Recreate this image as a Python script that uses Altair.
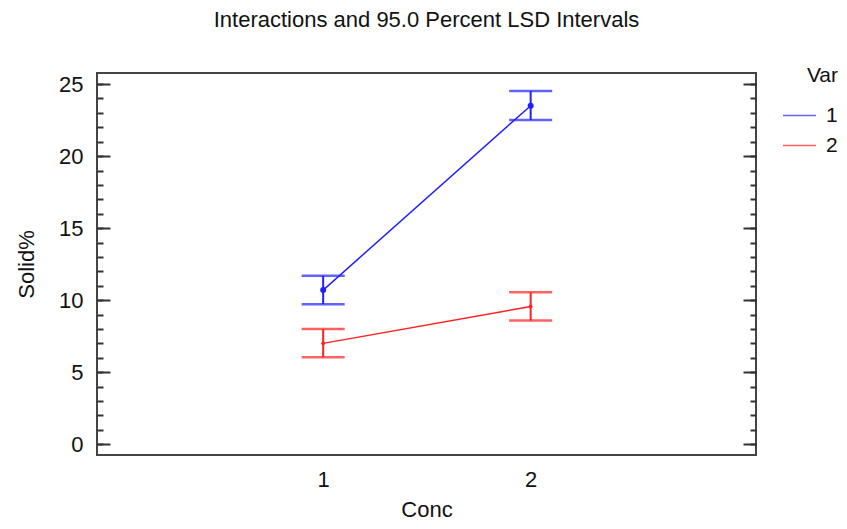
import altair as alt
import pandas as pd

# ---- data ----
conc = [1, 2]
var_levels = ["1", "2"]
mean_var1 = [10.7, 23.5]
lower_var1 = [9.72, 22.5]
upper_var1 = [11.7, 24.52]
mean_var2 = [7.0, 9.56]
lower_var2 = [6.04, 8.58]
upper_var2 = [8.0, 10.55]
y_major = [0, 5, 10, 15, 20, 25]
y_minor = list(range(0, 26))
x_labels = [1, 2]

rows = []
for v, means, lows, highs in [
    ("1", mean_var1, lower_var1, upper_var1),
    ("2", mean_var2, lower_var2, upper_var2),
]:
    for c, m, lo, hi in zip(conc, means, lows, highs):
        rows.append({"conc": c, "var": v, "mean": m, "lo": lo, "hi": hi})
df = pd.DataFrame(rows)

W, H = 659, 382
FONT = "Liberation Sans"
FS = 22
TXT = "#111111"
AX = "#333333"

xs = alt.Scale(domain=[-0.09, 3.086], nice=False, zero=False)
ys = alt.Scale(domain=[-0.75, 25.77], nice=False, zero=False)

legend = alt.Legend(
    title="Var", orient="none", legendX=685, legendY=-8,
    symbolType="stroke", symbolSize=1089, symbolStrokeWidth=1.5,
    labelFontSize=21, titleFontSize=21, titleFontWeight="normal",
    labelFont=FONT, titleFont=FONT, labelColor=TXT, titleColor=TXT,
    rowPadding=2, labelOffset=9, titleAnchor="end", titlePadding=12,
)
color = alt.Color("var:N", scale=alt.Scale(domain=var_levels, range=["#2020ff", "#ff2020"]), legend=legend)


def tick_axis(orient, values, size):
    return alt.Axis(orient=orient, offset=-W, values=values, tickSize=size, tickWidth=2,
                    tickColor=AX, labels=False, domain=False, grid=False, title="")


base = alt.Chart(df)

rules = base.mark_rule(strokeWidth=2).encode(
    x=alt.X("conc:Q", scale=xs, axis=alt.Axis(values=x_labels, format="d", ticks=False, domain=False,
                                              grid=False, labelPadding=14, title="Conc", titlePadding=9,
                                              labelFontSize=FS, titleFontSize=FS, labelFont=FONT,
                                              titleFont=FONT, titleFontWeight="normal",
                                              labelColor=TXT, titleColor=TXT)),
    y=alt.Y("lo:Q", scale=ys, axis=alt.Axis(orient="left", values=y_major, ticks=False, domain=False,
                                            grid=False, labelPadding=14, title="Solid%", titlePadding=20,
                                            labelFontSize=FS, titleFontSize=FS, labelFont=FONT,
                                            titleFont=FONT, titleFontWeight="normal",
                                            labelColor=TXT, titleColor=TXT)),
    y2="hi:Q",
    color=color,
)

caps_hi = base.mark_tick(orient="horizontal", size=43, thickness=2.5).encode(
    x=alt.X("conc:Q", scale=xs, axis=None),
    y=alt.Y("hi:Q", scale=ys, axis=tick_axis("right", y_minor, 6)),
    color=color,
)
caps_lo = base.mark_tick(orient="horizontal", size=43, thickness=2.5).encode(
    x=alt.X("conc:Q", scale=xs, axis=None),
    y=alt.Y("lo:Q", scale=ys, axis=tick_axis("right", y_major, 13)),
    color=color,
)
lines = base.mark_line(strokeWidth=1.5).encode(
    x=alt.X("conc:Q", scale=xs, axis=None),
    y=alt.Y("mean:Q", scale=ys, axis=tick_axis("left", y_minor, 6)),
    color=color,
)
points = base.mark_point(filled=True, opacity=1).encode(
    x=alt.X("conc:Q", scale=xs, axis=None),
    y=alt.Y("mean:Q", scale=ys, axis=tick_axis("left", y_major, 13)),
    color=color,
    size=alt.condition(alt.datum.var == "1", alt.value(36), alt.value(14)),
)

chart = alt.layer(lines, rules, caps_hi, caps_lo, points).resolve_axis(
    y="independent", x="independent"
).properties(
    width=W, height=H,
    autosize="none",
    padding={"left": 89, "top": 65, "right": 83, "bottom": 66},
    title=alt.TitleParams("Interactions and 95.0 Percent LSD Intervals", fontSize=FS, font=FONT,
                          fontWeight="normal", anchor="middle", frame="group", offset=33, color=TXT),
).configure_view(stroke="#444444", strokeWidth=2)

chart.save("out.html", embed_options={"renderer": "svg", "actions": False})
